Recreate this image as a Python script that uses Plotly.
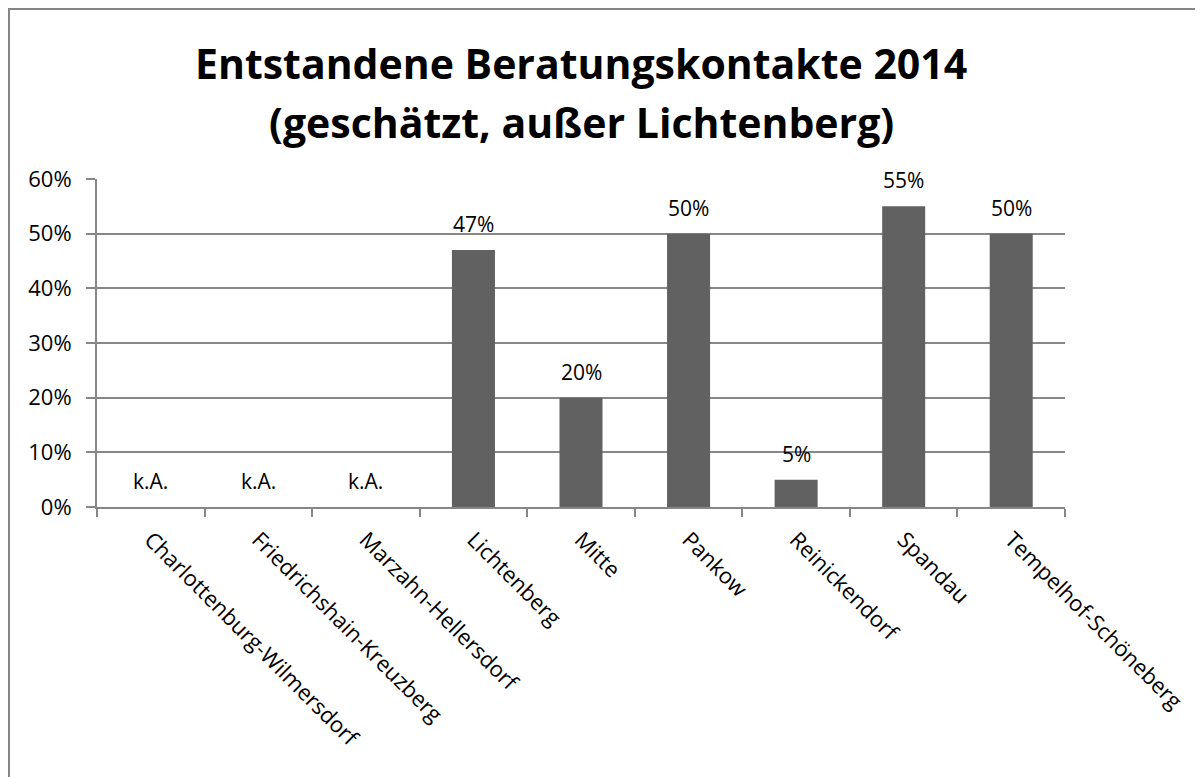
import plotly.graph_objects as go

categories = ["Charlottenburg-Wilmersdorf", "Friedrichshain-Kreuzberg", "Marzahn-Hellersdorf",
              "Lichtenberg", "Mitte", "Pankow", "Reinickendorf", "Spandau", "Tempelhof-Schöneberg"]
values = [0, 0, 0, 0.47, 0.20, 0.50, 0.05, 0.55, 0.50]
labels = ["k.A.", "k.A.", "k.A.", "47%", "20%", "50%", "5%", "55%", "50%"]
y_ticks = [0, 0.1, 0.2, 0.3, 0.4, 0.5, 0.6]
y_tick_labels = ["0%", "10%", "20%", "30%", "40%", "50%", "60%"]
title_lines = ["Entstandene Beratungskontakte 2014", "(geschätzt, außer Lichtenberg)"]

FONT = "Open Sans"
GRID = "#878787"

W, H = 1195, 769
L, T = 89, 171
R = W - 1057
B = H - 499
ph, pw = H - T - B, W - L - R


def px_x(px):
    return (px - L) / pw


def px_y(py):
    return (H - B - py) / ph


fig = go.Figure()
fig.add_trace(go.Bar(
    x=categories, y=values,
    marker=dict(color="#616161", line=dict(width=0)),
    hoverinfo="skip",
))

annotations = []
for c, v, t in zip(categories, values, labels):
    annotations.append(dict(x=c, y=v, xref="x", yref="y", text=t, showarrow=False,
                            yanchor="middle", yshift=26,
                            font=dict(family=FONT, size=21, color="#000000")))

for line, ypx in zip(title_lines, [55, 114]):
    annotations.append(dict(x=0.5, y=px_y(ypx), xref="paper", yref="paper",
                            text="<b>%s</b>" % line, showarrow=False, yanchor="middle",
                            font=dict(family=FONT, size=41, color="#000000")))

border = dict(color="#868686", width=2)
fig.update_layout(
    width=W, height=H,
    margin=dict(l=L, r=R, t=T, b=B, pad=0),
    paper_bgcolor="white", plot_bgcolor="white",
    showlegend=False,
    bargap=0.6,
    annotations=annotations,
    font=dict(family=FONT, size=21, color="#000000"),
    shapes=[
        dict(type="line", xref="paper", yref="paper", x0=px_x(1), x1=px_x(1), y0=px_y(1), y1=px_y(H),
             line=border, layer="below"),
        dict(type="line", xref="paper", yref="paper", x0=px_x(0), x1=px_x(W), y0=px_y(1), y1=px_y(1),
             line=border, layer="below"),
    ],
    xaxis=dict(
        type="category", tickangle=45, tickson="boundaries",
        ticks="outside", ticklen=8, tickwidth=2, tickcolor=GRID,
        showline=True, linecolor=GRID, linewidth=2,
        showgrid=False, ticklabelstandoff=9,
        tickfont=dict(family=FONT, size=22, color="#000000"),
        fixedrange=True,
    ),
    yaxis=dict(
        range=[0, 0.6], tickvals=y_ticks, ticktext=y_tick_labels,
        ticks="outside", ticklen=9, tickwidth=2, tickcolor=GRID,
        showline=True, linecolor=GRID, linewidth=2,
        showgrid=True, gridcolor=GRID, gridwidth=2,
        zeroline=False, ticklabelstandoff=10,
        tickfont=dict(family=FONT, size=22, color="#000000"),
        fixedrange=True,
    ),
)

fig.write_html("out.html", post_script="document.body.style.overflow='hidden';",
               config={"displayModeBar": False})
